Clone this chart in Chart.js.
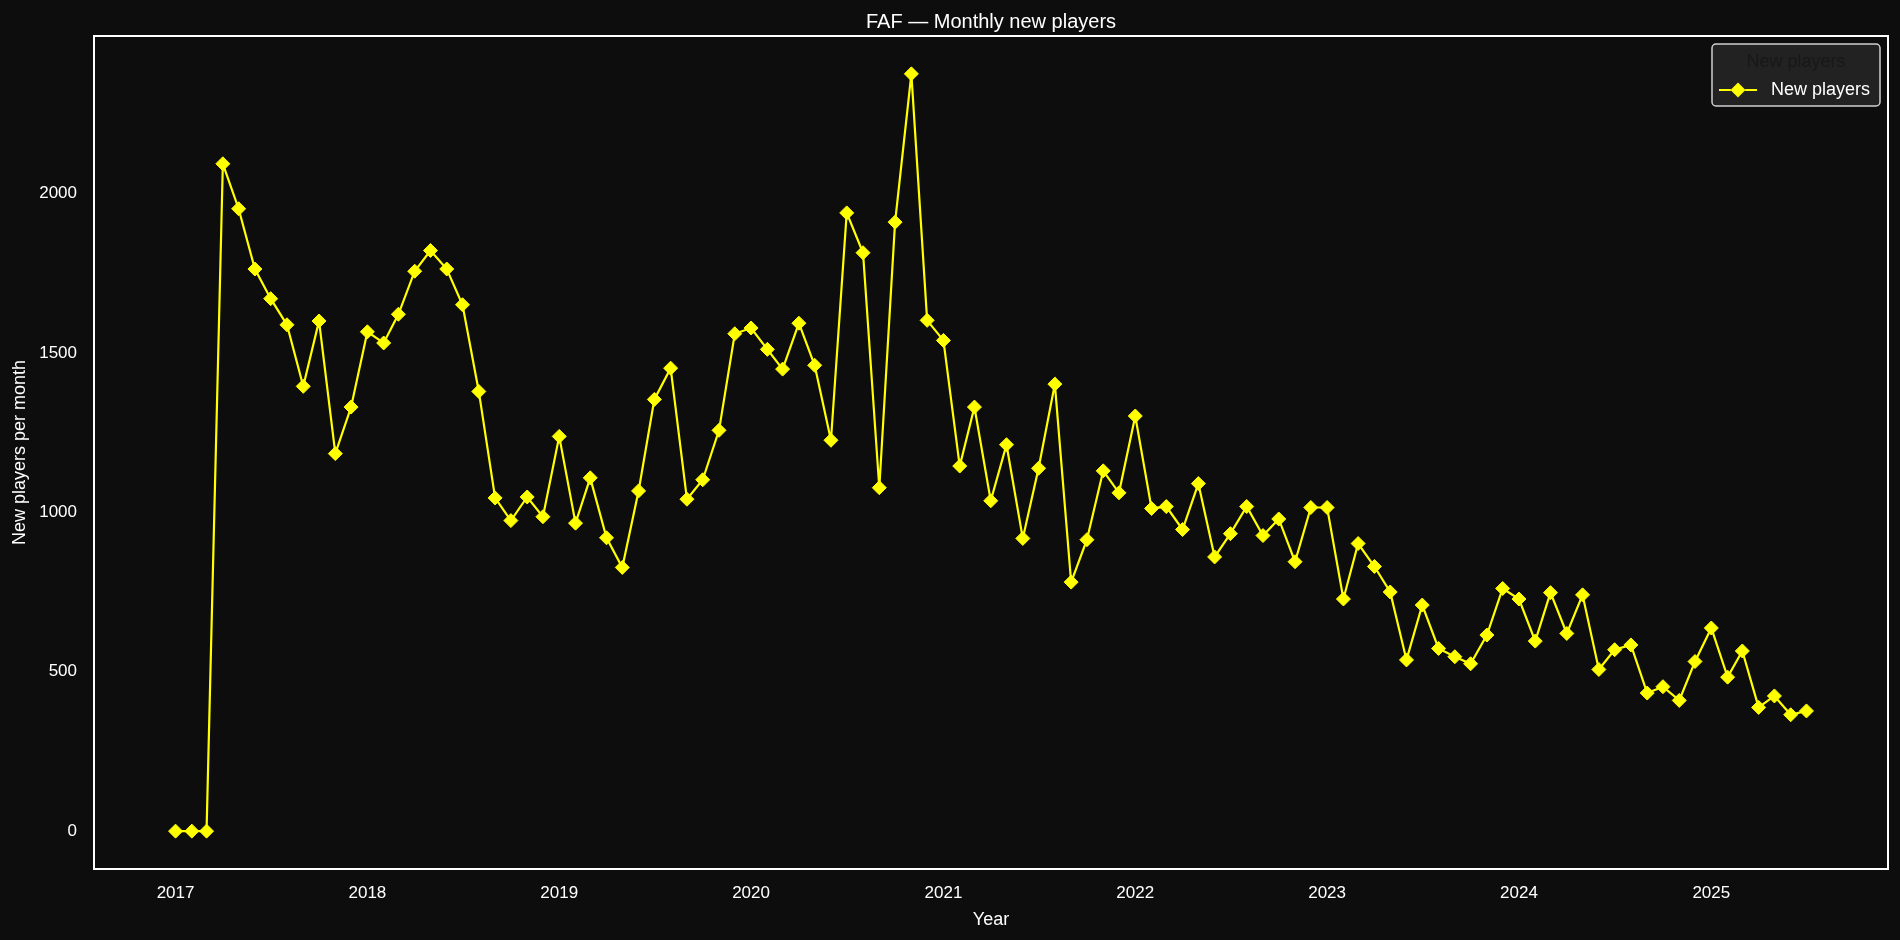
<!DOCTYPE html>
<html>
<head>
<meta charset="utf-8">
<title>FAF — Monthly new players</title>
<script src="https://cdn.jsdelivr.net/npm/chart.js@4.4.1/dist/chart.umd.min.js"></script>
<style>
  html, body { margin: 0; padding: 0; background: #0d0d0d; }
  #wrap { width: 1900px; height: 940px; }
</style>
</head>
<body>
<div id="wrap"><canvas id="playersChart" width="1900" height="940"></canvas></div>
<script>
// monthly new players, Jan 2017 .. Jul 2025
const years = [2017, 2018, 2019, 2020, 2021, 2022, 2023, 2024, 2025];
const y2017 = [0, 0, 0, 2093, 1952, 1763, 1670, 1588, 1395, 1600, 1184, 1330];
const y2018 = [1566, 1531, 1621, 1756, 1821, 1763, 1651, 1379, 1045, 974, 1048, 986];
const y2019 = [1238, 966, 1108, 920, 827, 1067, 1354, 1452, 1041, 1102, 1257, 1560];
const y2020 = [1578, 1511, 1449, 1593, 1461, 1226, 1939, 1814, 1077, 1910, 2375, 1602];
const y2021 = [1539, 1145, 1330, 1036, 1212, 918, 1138, 1402, 781, 914, 1130, 1061];
const y2022 = [1302, 1012, 1018, 946, 1090, 860, 933, 1018, 927, 979, 845, 1015];
const y2023 = [1015, 728, 902, 830, 750, 537, 709, 573, 547, 525, 615, 761];
const y2024 = [728, 596, 748, 620, 741, 507, 569, 584, 433, 453, 410, 532];
const y2025 = [637, 483, 565, 388, 424, 365, 377];

const xTickYears = [2017, 2018, 2019, 2020, 2021, 2022, 2023, 2024, 2025];
const yTickValues = [0, 500, 1000, 1500, 2000];

const DAY = 86400000;
const dayOf = (y, m) => Date.UTC(y, m, 1) / DAY;

// build {x: days, y: players} points from the per-year lists
const perYear = [y2017, y2018, y2019, y2020, y2021, y2022, y2023, y2024, y2025];
const points = [];
perYear.forEach((vals, i) => {
    vals.forEach((v, m) => points.push({ x: dayOf(years[i], m), y: v }));
});

const xFirst = points[0].x;
const xLast = points[points.length - 1].x;
const xPad = (xLast - xFirst) * 0.05;
const yMaxVal = Math.max(...points.map(p => p.y));
const yPad = yMaxVal * 0.05;

const LINE_COLOR = '#ffff00';
const TEXT_COLOR = '#ffffff';
const FONT = "'Liberation Sans', Arial, Helvetica, sans-serif";

// white frame around the plot + legend box inside the top right corner
const framePlugin = {
    id: 'frameAndLegend',
    afterDraw(chart) {
        const { ctx, chartArea: a } = chart;
        ctx.save();
        ctx.strokeStyle = '#ffffff';
        ctx.lineWidth = 2;
        ctx.strokeRect(a.left, a.top, a.right - a.left, a.bottom - a.top);

        // legend box
        const bx = a.right - 176, by = a.top + 8, bw = 168, bh = 62;
        ctx.beginPath();
        ctx.roundRect(bx, by, bw, bh, 4);
        ctx.fillStyle = '#222222';
        ctx.fill();
        ctx.strokeStyle = '#d0d0d0';
        ctx.lineWidth = 1.5;
        ctx.stroke();

        ctx.font = '18px ' + FONT;
        ctx.textBaseline = 'middle';
        // legend title (drawn almost in the box colour, as in the reference)
        ctx.fillStyle = '#181818';
        ctx.textAlign = 'center';
        ctx.fillText('New players', bx + bw / 2, by + 18);

        // legend entry
        const ly = by + 46;
        ctx.strokeStyle = LINE_COLOR;
        ctx.lineWidth = 2.2;
        ctx.beginPath();
        ctx.moveTo(bx + 7, ly);
        ctx.lineTo(bx + 45, ly);
        ctx.stroke();
        Chart.helpers.drawPoint(ctx, { pointStyle: 'rectRot', radius: 7.5, borderWidth: 0 }, bx + 26, ly);
        ctx.fillStyle = LINE_COLOR;
        ctx.fill();

        ctx.fillStyle = TEXT_COLOR;
        ctx.textAlign = 'left';
        ctx.fillText('New players', bx + 59, ly);
        ctx.restore();
    }
};

const ctx = document.getElementById('playersChart').getContext('2d');
const playersChart = new Chart(ctx, {
    type: 'line',
    data: {
        datasets: [{
            label: 'New players',
            data: points,
            borderColor: LINE_COLOR,
            backgroundColor: LINE_COLOR,
            borderWidth: 2.2,
            tension: 0,
            fill: false,
            pointStyle: 'rectRot',
            pointRadius: 7,
            pointBorderWidth: 1,
            pointBorderColor: LINE_COLOR,
            pointBackgroundColor: LINE_COLOR
        }]
    },
    options: {
        responsive: false,
        animation: false,
        layout: { padding: { top: 0, right: 12, bottom: 0, left: 0 } },
        plugins: {
            legend: { display: false },
            tooltip: { enabled: false },
            title: {
                display: true,
                text: 'FAF — Monthly new players',
                color: TEXT_COLOR,
                fullSize: false,
                font: { family: FONT, size: 20, weight: 'normal' },
                padding: { top: 10, bottom: 2 }
            }
        },
        scales: {
            x: {
                type: 'linear',
                min: xFirst - xPad,
                max: xLast + xPad,
                grid: { display: false, drawTicks: false },
                border: { display: false },
                afterBuildTicks: s => { s.ticks = xTickYears.map(y => ({ value: dayOf(y, 0) })); },
                afterFit: s => { s.height = 71; },
                ticks: {
                    color: TEXT_COLOR,
                    padding: 14,
                    maxRotation: 0,
                    font: { family: FONT, size: 17 },
                    callback: v => String(new Date(v * DAY).getUTCFullYear())
                },
                title: {
                    display: true,
                    text: 'Year',
                    color: TEXT_COLOR,
                    font: { family: FONT, size: 18 },
                    padding: { top: 0, bottom: 9 }
                }
            },
            y: {
                type: 'linear',
                min: -yPad,
                max: yMaxVal + yPad,
                grid: { display: false, drawTicks: false },
                border: { display: false },
                afterBuildTicks: s => { s.ticks = yTickValues.map(v => ({ value: v })); },
                afterFit: s => { s.width = 94; },
                ticks: {
                    color: TEXT_COLOR,
                    padding: 17,
                    font: { family: FONT, size: 17 },
                    callback: v => String(v)
                },
                title: {
                    display: true,
                    text: 'New players per month',
                    color: TEXT_COLOR,
                    font: { family: FONT, size: 18 },
                    padding: { top: 9, bottom: 0 }
                }
            }
        }
    },
    plugins: [framePlugin]
});
</script>
</body>
</html>
